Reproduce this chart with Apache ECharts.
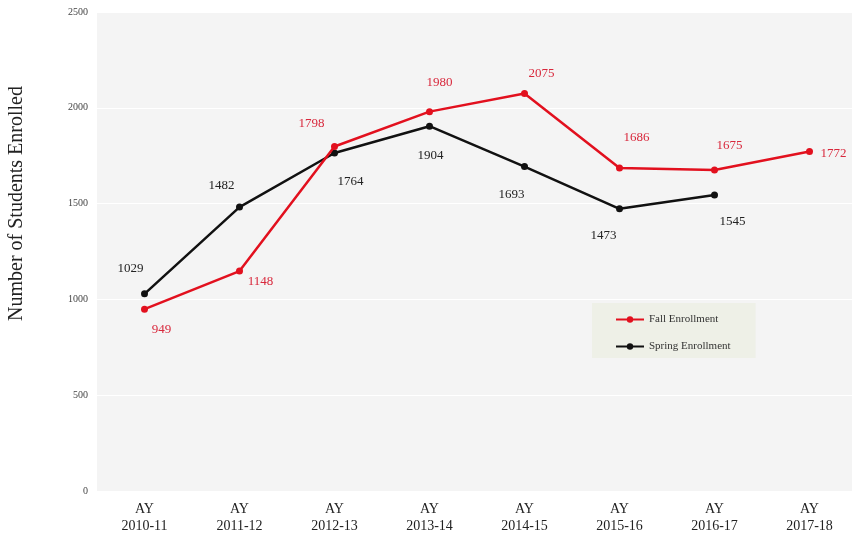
<!DOCTYPE html>
<html>
<head>
<meta charset="utf-8">
<script src="https://cdn.jsdelivr.net/npm/echarts@6/dist/echarts.min.js"></script>
<style>
html,body{margin:0;padding:0;background:#fff;}
#chart{width:852px;height:540px;}
</style>
</head>
<body>
<div id="chart"></div>
<script>
var categories = ['AY\n2010-11','AY\n2011-12','AY\n2012-13','AY\n2013-14','AY\n2014-15','AY\n2015-16','AY\n2016-17','AY\n2017-18'];
var fallEnrollment = [949, 1148, 1798, 1980, 2075, 1686, 1675, 1772];
var springEnrollment = [1029, 1482, 1764, 1904, 1693, 1473, 1545];
var yTicks = [0, 500, 1000, 1500, 2000, 2500];

// label placement offsets (styling only)
var fallOffsets = [[17,20],[21,11],[-23,-23],[10,-29],[17,-20],[17,-30],[15,-24],[24,2]];
var springOffsets = [[-14,-25],[-18,-21],[16,29],[1,29],[-13,28],[-16,27],[18,27]];

var FONT = '"Liberation Serif", "DejaVu Serif", serif';

function withLabels(values, offsets, color) {
  return values.map(function (v, i) {
    return {
      value: v,
      label: {
        show: true,
        position: 'inside',
        offset: offsets[i],
        color: color,
        fontFamily: FONT,
        fontSize: 13,
        formatter: '{c}'
      }
    };
  });
}

var chart = echarts.init(document.getElementById('chart'));
chart.setOption({
  animation: false,
  grid: {
    left: 97, top: 12, bottom: 49, width: 760,
    outerBoundsMode: 'none', containLabel: false,
    show: true, backgroundColor: '#f4f4f4', borderWidth: 0
  },
  legend: {
    orient: 'vertical',
    left: 592, top: 303,
    backgroundColor: '#eef0e7',
    padding: [11, 25, 6, 23],
    itemWidth: 28, itemHeight: 8, itemGap: 16,
    textStyle: { fontFamily: FONT, fontSize: 11, color: '#333' },
    data: ['Fall Enrollment', 'Spring Enrollment']
  },
  xAxis: {
    type: 'category',
    data: categories,
    boundaryGap: true,
    axisLine: { show: false },
    axisTick: { show: false },
    axisLabel: { fontFamily: FONT, fontSize: 14, color: '#222', lineHeight: 17, margin: 10 }
  },
  yAxis: {
    type: 'value',
    min: yTicks[0], max: yTicks[yTicks.length - 1], interval: yTicks[1] - yTicks[0],
    name: 'Number of Students Enrolled',
    nameLocation: 'middle',
    nameGap: 70,
    nameTextStyle: { fontFamily: FONT, fontSize: 20, color: '#222', padding: [0, 0, 0, 96] },
    axisLine: { show: false },
    axisTick: { show: false },
    axisLabel: { fontFamily: FONT, fontSize: 10, color: '#444', margin: 9, formatter: function (v) { return String(v); } },
    splitLine: { show: true, lineStyle: { color: '#ffffff', width: 1 } }
  },
  series: [
    {
      name: 'Fall Enrollment',
      type: 'line',
      data: withLabels(fallEnrollment, fallOffsets, '#d8283c'),
      symbol: 'circle', symbolSize: 7,
      lineStyle: { color: '#e2101e', width: 2.5 },
      itemStyle: { color: '#e2101e' },
      z: 3
    },
    {
      name: 'Spring Enrollment',
      type: 'line',
      data: withLabels(springEnrollment, springOffsets, '#222'),
      symbol: 'circle', symbolSize: 7,
      lineStyle: { color: '#111', width: 2.5 },
      itemStyle: { color: '#111' },
      z: 2
    }
  ]
});
</script>
</body>
</html>
